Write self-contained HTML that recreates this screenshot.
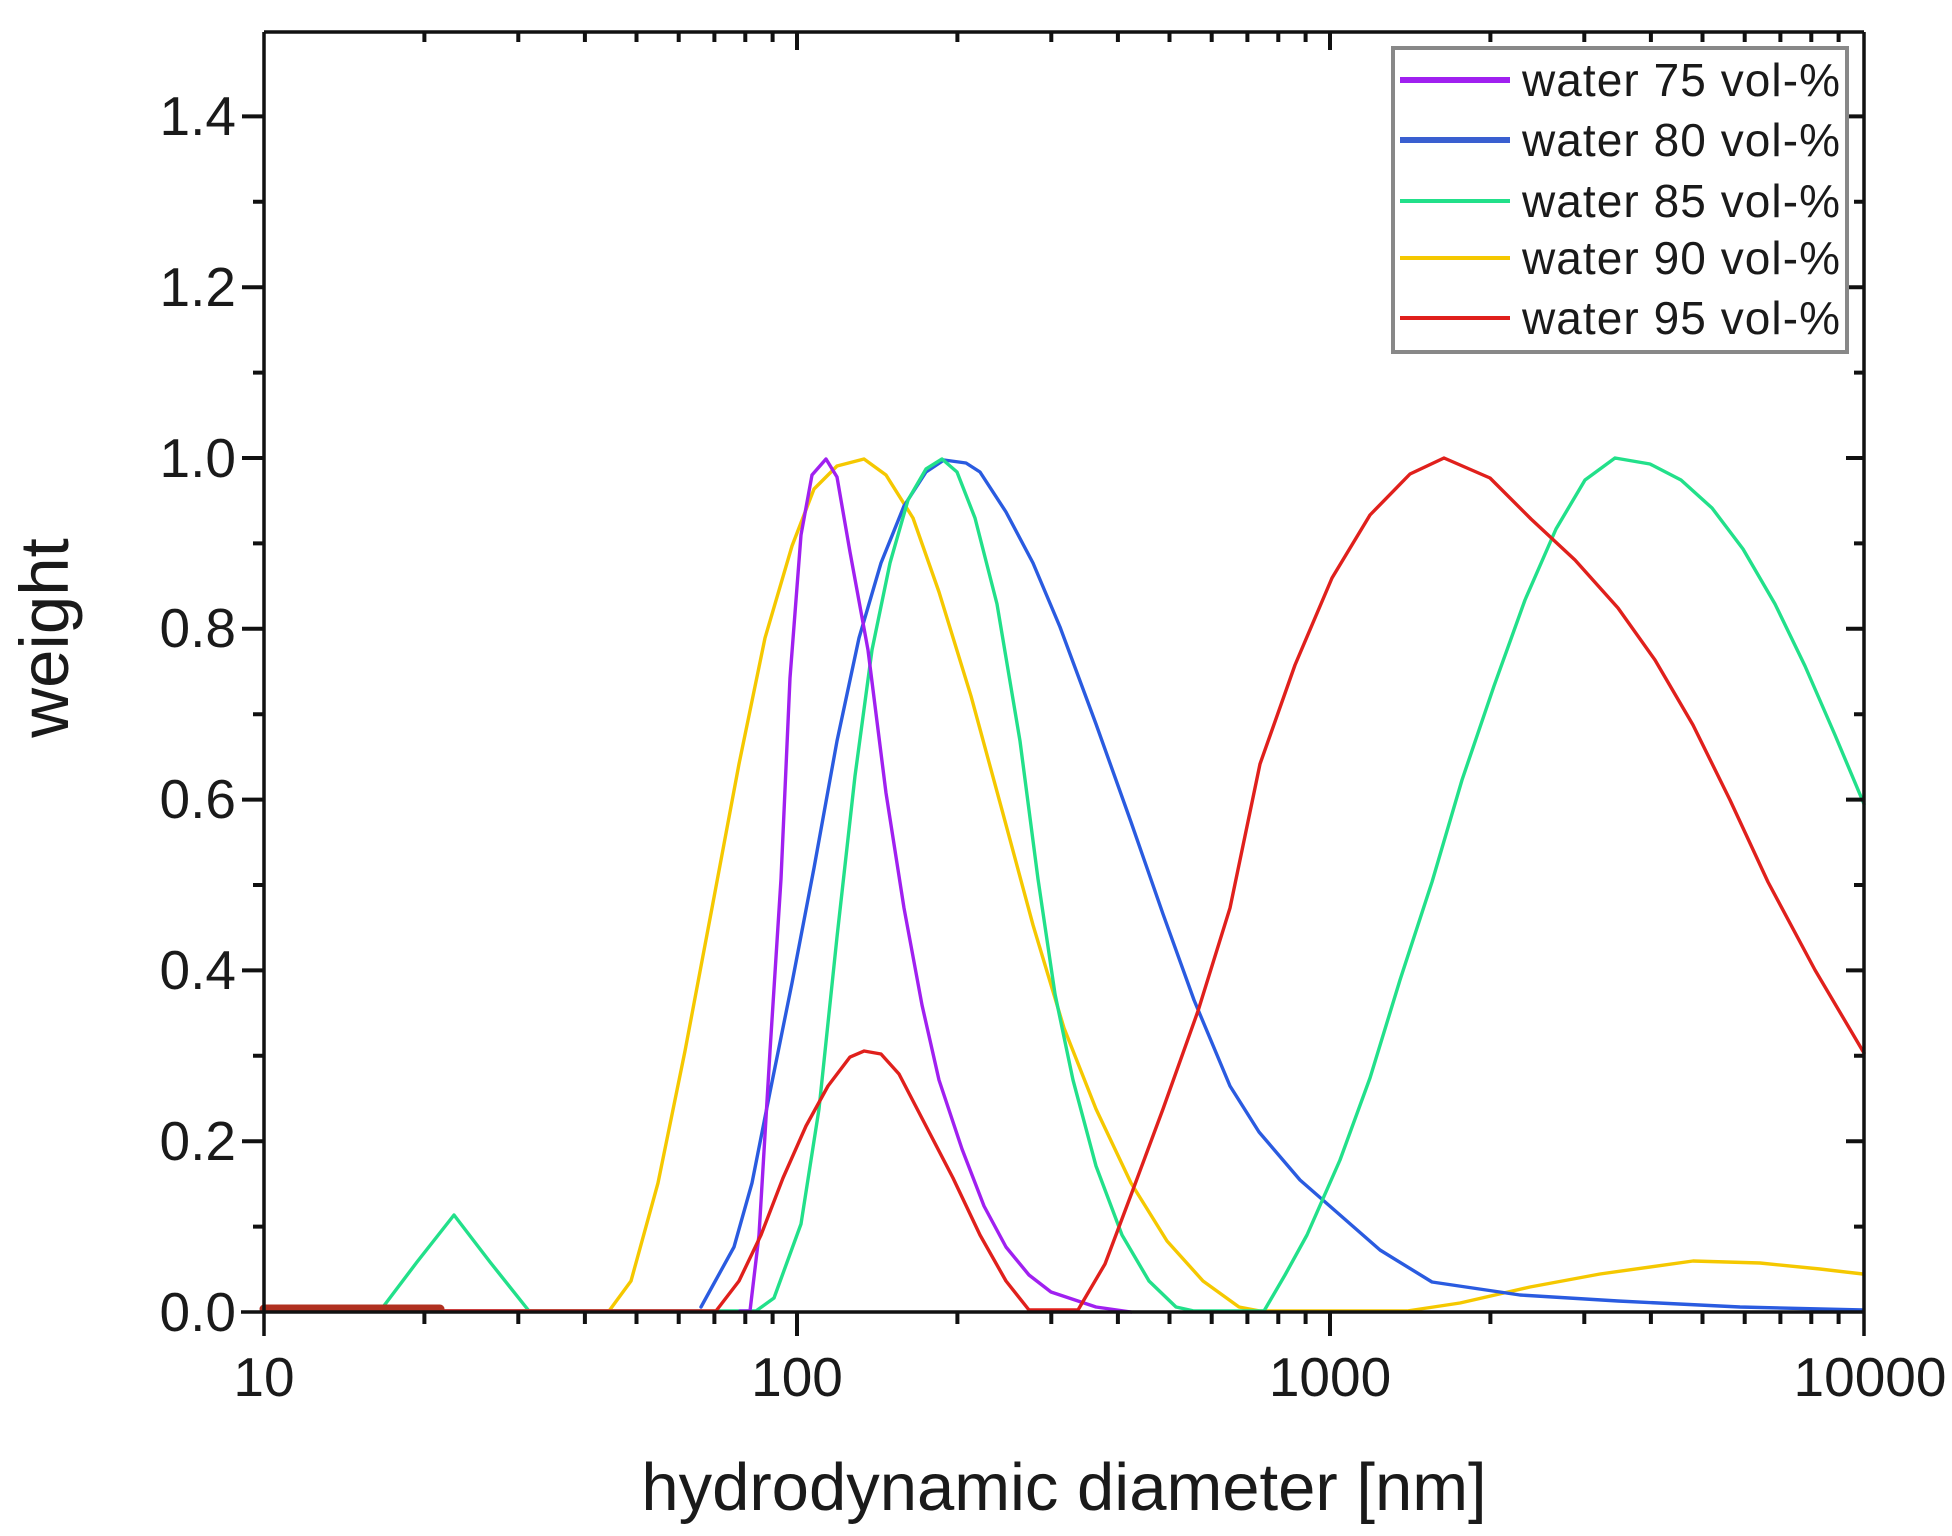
<!DOCTYPE html>
<html><head><meta charset="utf-8"><style>
html,body{margin:0;padding:0;background:#fff}
svg{display:block}
text{font-family:"Liberation Sans",Arial,sans-serif;fill:#1a1a1a}
</style></head><body>
<svg width="1952" height="1536" viewBox="0 0 1952 1536" xmlns="http://www.w3.org/2000/svg">
<g fill="none" stroke-linejoin="round" stroke-linecap="round" stroke-width="3.4">
<polyline stroke="#e8c400" points="264,1311 609,1311"/>
<polyline stroke="#2f5fe0" points="264,1311 701,1311"/>
<polyline stroke="#00d27a" points="264,1311 380,1311"/>
<polyline stroke="#f5c800" points="609,1311 631,1281 658,1183 685,1051 712,908 739,764 765,638 792,546 814,489 837,466 864,459 886,475 913,518 939,592 971,696 1002,810 1033,925 1064,1028 1096,1109 1131,1183 1167,1241 1203,1281 1239,1307 1260,1311 1407,1311 1460,1303 1530,1287 1600,1274 1693,1261 1760,1263 1820,1269 1863,1274"/>
<polyline stroke="#2a5be0" points="701,1307 712,1287 734,1247 752,1183 770,1092 792,983 814,868 837,741 859,638 881,563 904,506 926,472 944,460 966,463 980,472 1006,512 1033,563 1060,627 1096,724 1131,822 1163,914 1194,1000 1230,1086 1259,1132 1300,1180 1332,1208 1380,1250 1432,1282 1520,1295 1618,1301 1740,1307 1863,1310"/>
<polyline stroke="#22e08a" points="380,1311 417,1262 454,1215 490,1262 529,1311 756,1311 774,1298 801,1224 819,1109 837,937 855,776 872,650 890,563 908,500 926,469 942,459 957,472 975,518 997,604 1020,741 1038,879 1055,994 1073,1080 1096,1166 1122,1235 1149,1281 1176,1307 1194,1311 1264,1311 1285,1275 1307,1235 1340,1160 1370,1078 1400,980 1432,882 1462,780 1494,686 1525,600 1556,529 1585,480 1615,458 1650,464 1681,480 1712,508 1743,549 1775,604 1805,666 1835,735 1864,804"/>
<polyline stroke="#a020f0" points="740,1311 750,1311 759,1235 770,1051 781,879 790,678 801,535 812,475 826,459 837,477 850,552 868,650 886,793 904,908 922,1005 939,1080 962,1149 984,1206 1006,1247 1029,1275 1051,1292 1096,1307 1131,1312"/>
<polyline stroke="#e0201c" points="264,1311 716,1311 739,1281 761,1235 783,1178 806,1126 828,1086 850,1057 864,1051 881,1054 899,1074 926,1126 953,1178 980,1235 1006,1281 1029,1310 1078,1310 1105,1264 1131,1195 1163,1109 1198,1011 1230,908 1260,764 1295,665 1332,578 1370,515 1410,474 1444,458 1490,478 1531,519 1575,560 1618,608 1655,660 1693,725 1730,800 1768,882 1815,970 1864,1053"/>
<polyline stroke="#b03020" stroke-width="9" points="264,1309 440,1309"/>
</g>
<g stroke="#111" stroke-width="3.5" fill="none">
<line x1="264" y1="32" x2="264" y2="1336"/>
<line x1="264" y1="32" x2="1864" y2="32"/>
<line x1="1864" y1="32" x2="1864" y2="1336"/>
<line x1="241" y1="1312" x2="1864" y2="1312"/>
</g>
<g stroke="#111" stroke-width="4">
<!-- x bottom minor ticks -->
<path d="M424.4 1312v12M518.3 1312v12M584.9 1312v12M636.5 1312v12M678.7 1312v12M714.4 1312v12M745.3 1312v12M772.6 1312v12
M797 1312v24
M957.4 1312v12M1051.3 1312v12M1117.9 1312v12M1169.5 1312v12M1211.7 1312v12M1247.4 1312v12M1278.3 1312v12M1305.6 1312v12
M1330 1312v24
M1490.4 1312v12M1584.3 1312v12M1650.9 1312v12M1702.5 1312v12M1744.7 1312v12M1780.4 1312v12M1811.3 1312v12M1838.6 1312v12"/>
<!-- x top ticks -->
<path d="M424.4 32v10M518.3 32v10M584.9 32v10M636.5 32v10M678.7 32v10M714.4 32v10M745.3 32v10M772.6 32v10
M797 32v18
M957.4 32v10M1051.3 32v10M1117.9 32v10M1169.5 32v10M1211.7 32v10M1247.4 32v10M1278.3 32v10M1305.6 32v10
M1330 32v18
M1490.4 32v10M1584.3 32v10M1650.9 32v10M1702.5 32v10M1744.7 32v10M1780.4 32v10M1811.3 32v10M1838.6 32v10"/>
<!-- y left ticks -->
<path d="M264 1226.6h-11M264 1141.2h-22M264 1055.8h-11M264 970.4h-22M264 885h-11M264 799.6h-22M264 714.2h-11M264 628.8h-22M264 543.4h-11M264 458h-22M264 372.6h-11M264 287.2h-22M264 201.8h-11M264 116.4h-22"/>
<!-- y right ticks -->
<path d="M1864 1226.6h-10M1864 1141.2h-18M1864 1055.8h-10M1864 970.4h-18M1864 885h-10M1864 799.6h-18M1864 714.2h-10M1864 628.8h-18M1864 543.4h-10M1864 458h-18M1864 372.6h-10M1864 287.2h-18M1864 201.8h-10M1864 116.4h-18"/>
</g>
<g font-size="55" text-anchor="end">
<text x="236" y="1331">0.0</text>
<text x="236" y="1160">0.2</text>
<text x="236" y="989">0.4</text>
<text x="236" y="818">0.6</text>
<text x="236" y="647">0.8</text>
<text x="236" y="477">1.0</text>
<text x="236" y="306">1.2</text>
<text x="236" y="135">1.4</text>
</g>
<g font-size="55" text-anchor="middle">
<text x="264" y="1396">10</text>
<text x="797" y="1396">100</text>
<text x="1330" y="1396">1000</text>
<text x="1870" y="1396">10000</text>
</g>
<text x="1064" y="1510" font-size="67" text-anchor="middle">hydrodynamic diameter [nm]</text>
<text transform="translate(68,638) rotate(-90)" font-size="69" text-anchor="middle">weight</text>
<rect x="1393" y="48" width="454" height="304" fill="#fff" stroke="#888" stroke-width="4"/>
<line x1="1400" y1="80" x2="1510" y2="80" stroke="#a020f0" stroke-width="6"/>
<line x1="1400" y1="140" x2="1510" y2="140" stroke="#3a5fd0" stroke-width="6"/>
<line x1="1400" y1="201" x2="1510" y2="201" stroke="#22e08a" stroke-width="4"/>
<line x1="1400" y1="258" x2="1510" y2="258" stroke="#f5c800" stroke-width="4"/>
<line x1="1400" y1="318" x2="1510" y2="318" stroke="#e0201c" stroke-width="4"/>
<g font-size="46">
<text x="1522" y="96" textLength="318">water 75 vol-%</text>
<text x="1522" y="156" textLength="318">water 80 vol-%</text>
<text x="1522" y="217" textLength="318">water 85 vol-%</text>
<text x="1522" y="274" textLength="318">water 90 vol-%</text>
<text x="1522" y="334" textLength="318">water 95 vol-%</text>
</g>
</svg>
</body></html>
